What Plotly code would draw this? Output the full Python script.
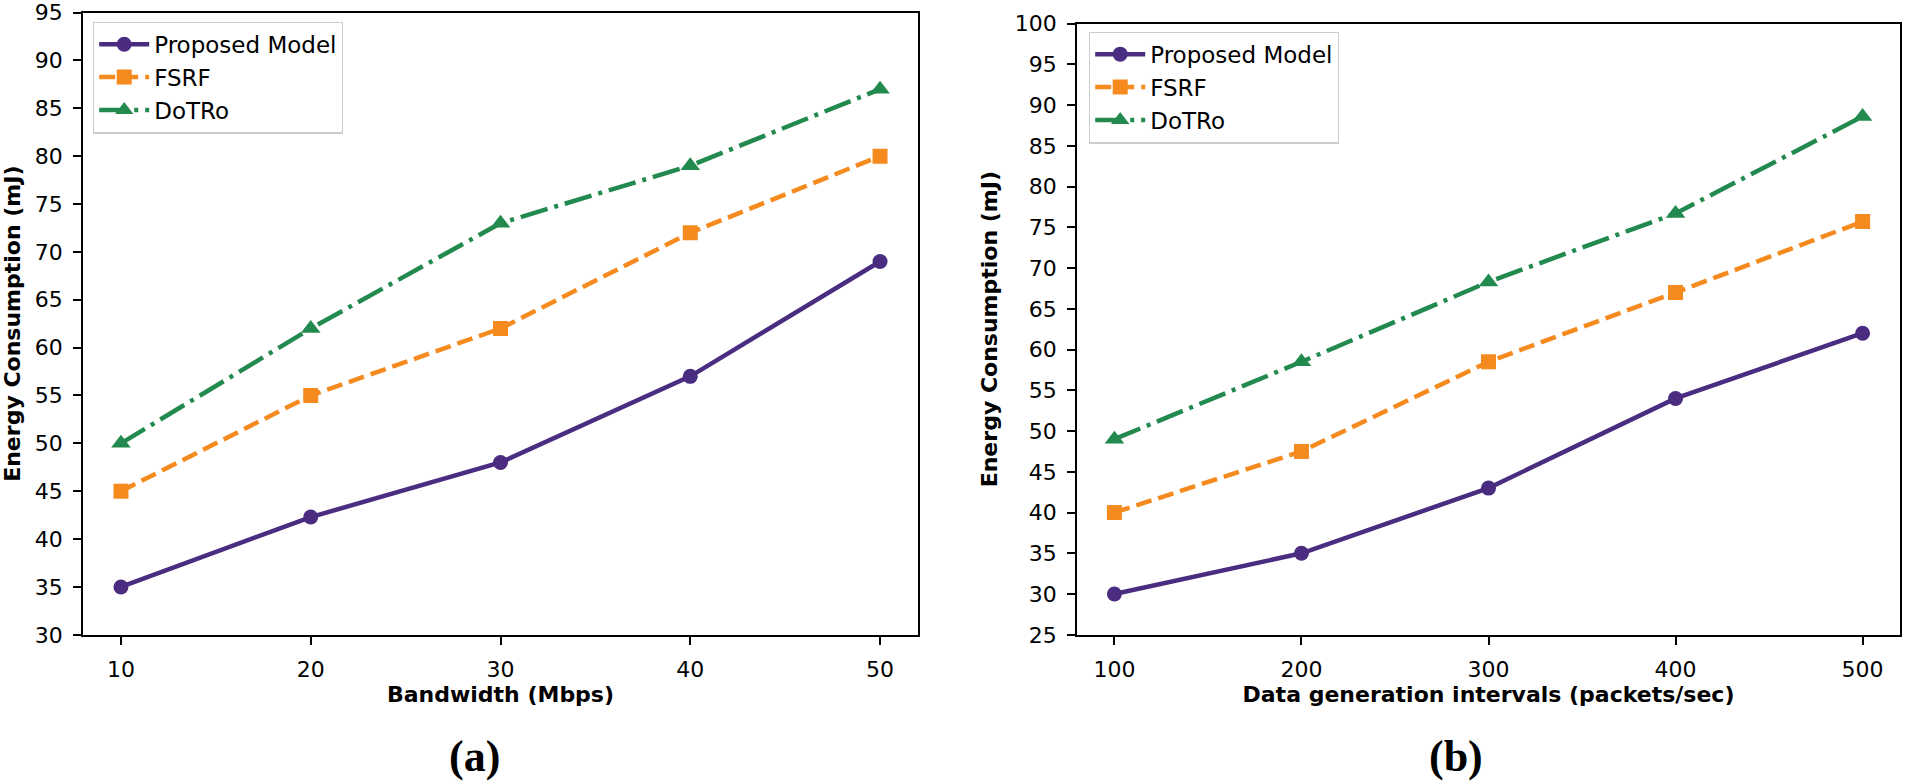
import plotly.graph_objects as go

# ---- data ----
bandwidth = [10, 20, 30, 40, 50]
a_proposed = [35, 42.3, 48, 57, 69]
a_fsrf = [45, 55, 62, 72, 80]
a_dotro = [50, 62, 73, 79, 87]

intervals = [100, 200, 300, 400, 500]
b_proposed = [30, 35, 43, 54, 62]
b_fsrf = [40, 47.5, 58.5, 67, 75.7]
b_dotro = [49, 58.5, 68.3, 76.7, 88.6]

series_names = ["Proposed Model", "FSRF", "DoTRo"]

# ---- styles ----
W, H = 1905, 784
VSTRETCH = 1.03  # vertical layout stretch about the page centre
PURPLE = "#4a2c80"
ORANGE = "#f58a1f"
GREEN = "#22894f"
LW = 4.5
styles = [
    dict(color=PURPLE, dash="solid", symbol="circle", size=15),
    dict(color=ORANGE, dash="16px,7px", symbol="square", size=15),
    dict(color=GREEN, dash="28px,7px,4px,7px", symbol="triangle-up", size=17),
]

def px_x(p):
    return p / W

def px_y(p):
    p = H / 2 + (p - H / 2) * VSTRETCH
    return 1 - p / H

fig = go.Figure()

groups = [
    (bandwidth, [a_proposed, a_fsrf, a_dotro], "x", "y", "legend"),
    (intervals, [b_proposed, b_fsrf, b_dotro], "x2", "y2", "legend2"),
]
for xs, ys_list, xa, ya, lg in groups:
    for name, ys, st in zip(series_names, ys_list, styles):
        fig.add_trace(go.Scatter(
            x=xs, y=ys, name=name, mode="lines+markers",
            xaxis=xa, yaxis=ya, legend=lg,
            line=dict(color=st["color"], width=LW, dash=st["dash"]),
            marker=dict(color=st["color"], symbol=st["symbol"], size=st["size"],
                        line=dict(width=0)),
        ))

tick_font = dict(family="DejaVu Sans", size=22, color="black")
title_font = dict(family="DejaVu Sans", size=22, color="black", weight="bold")
axis_common = dict(
    showline=True, linecolor="black", linewidth=1.6, mirror=True,
    ticks="outside", ticklen=8, tickwidth=1.6, tickcolor="black",
    ticklabelstandoff=6,
    showgrid=False, zeroline=False, tickfont=tick_font,
)
legend_common = dict(
    xanchor="left", yanchor="top",
    bgcolor="rgba(255,255,255,0.8)", bordercolor="#cccccc", borderwidth=1.2,
    font=dict(family="DejaVu Sans", size=23, color="black"),
    itemwidth=50,
)

fig.update_layout(
    width=W, height=H,
    margin=dict(l=0, r=0, t=0, b=0),
    paper_bgcolor="white", plot_bgcolor="white",
    xaxis=dict(domain=[px_x(83), px_x(918)], range=[8, 52], tickvals=bandwidth,
               anchor="y", title=dict(text="Bandwidth (Mbps)", font=title_font, standoff=6),
               **axis_common),
    yaxis=dict(domain=[px_y(636), px_y(12)], range=[30, 95], dtick=5, tick0=30,
               anchor="x", title=dict(text="Energy Consumption (mJ)", font=title_font, standoff=13),
               **axis_common),
    xaxis2=dict(domain=[px_x(1077), px_x(1900)], range=[80, 520], tickvals=intervals,
                anchor="y2", title=dict(text="Data generation intervals (packets/sec)", font=title_font, standoff=6),
                **axis_common),
    yaxis2=dict(domain=[px_y(636), px_y(23)], range=[25, 100], dtick=5, tick0=25,
                anchor="x2", title=dict(text="Energy Consumption (mJ)", font=title_font, standoff=11),
                **axis_common),
    legend=dict(x=px_x(93), y=px_y(21), **legend_common),
    legend2=dict(x=px_x(1089), y=px_y(31), **legend_common),
    annotations=[
        dict(text="<b>(a)</b>", x=px_x(474), y=px_y(758), xref="paper", yref="paper",
             showarrow=False, xanchor="center", yanchor="middle",
             font=dict(family="Liberation Serif", size=44, color="black")),
        dict(text="<b>(b)</b>", x=px_x(1456), y=px_y(758), xref="paper", yref="paper",
             showarrow=False, xanchor="center", yanchor="middle",
             font=dict(family="Liberation Serif", size=44, color="black")),
    ],
)

pin_script = (
    "document.documentElement.style.margin='0';"
    "document.body.style.margin='0';"
    "document.body.style.overflow='hidden';"
    "var gd=document.getElementById('{plot_id}');"
    "gd.style.position='fixed';gd.style.left='0px';gd.style.top='0px';"
)

fig.write_html("out.html", config={"displayModeBar": False}, post_script=pin_script)
